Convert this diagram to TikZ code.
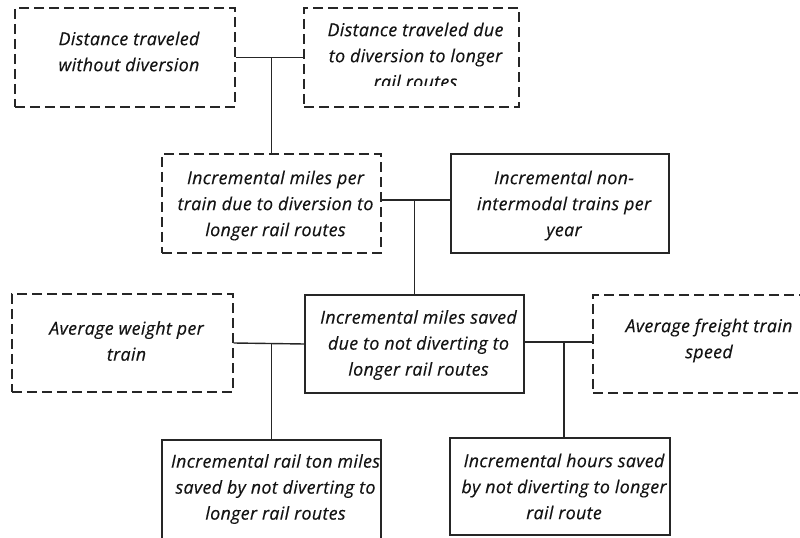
\documentclass[tikz,border=0pt]{standalone}
\usepackage{fontspec}
\setmainfont{Open Sans}[LetterSpace=2, ItalicFeatures={FakeBold=0.35}]
\begin{document}
\begin{tikzpicture}[x=1bp,y=-1bp,
  box/.style={draw=black!85, line width=1.4bp, minimum width=#1, inner sep=0pt},
  dbox/.style={box=#1, dash pattern=on 10bp off 5bp},
  txt/.style={font=\fontsize{17.8bp}{26bp}\selectfont\itshape, text=black!92,
              align=center, inner sep=0pt, xshift=4bp},
  link/.style={draw=black!85, line width=1.4bp}]
\useasboundingbox (0,0) rectangle (800,538);
\clip (0,0) rectangle (800,538);
% upper row: dashed inputs
\node[dbox=220bp, minimum height=99bp] (b1) at (125,57.5) {};
\node[dbox=215bp, minimum height=99bp] (b2) at (411.5,57.5) {};
% second row
\node[dbox=219bp, minimum height=99bp] (b3) at (271.5,203.5) {};
\node[box=218bp, minimum height=99bp] (b4) at (560,203.5) {};
% third row
\node[dbox=221bp, minimum height=98bp] (b5) at (122.5,343) {};
\node[box=219bp, minimum height=98bp] (b6) at (414.5,344) {};
\node[dbox=224bp, minimum height=98bp] (b7) at (705,344) {};
% bottom row: results
\node[box=219bp, minimum height=100bp] (b8) at (271.5,490) {};
\node[box=220bp, minimum height=97bp] (b9) at (560,486.5) {};

% labels
\node[txt, yshift=6bp] (t1) at (b1) {Distance traveled\\without diversion};
\begin{scope}
  \clip (304,8) rectangle (519,86);
  \node[txt, yshift=2bp] (t2) at (b2) {Distance traveled due\\to diversion to longer\\rail routes};
\end{scope}
\node[txt, yshift=-2bp] (t3) at (b3) {Incremental miles per\\train due to diversion to\\longer rail routes};
\node[txt, yshift=-2bp] (t4) at (b4) {Incremental non-\\intermodal trains per\\year};
\node[txt, yshift=2bp] (t5) at (b5) {Average weight per\\train};
\node[txt] (t6) at ([yshift=-1bp]b6) {Incremental miles saved\\due to not diverting to\\longer rail routes};
\node[txt, yshift=3.5bp] (t7) at (b7) {Average freight train\\speed};
\node[txt] (t8) at ([yshift=1bp]b8) {Incremental rail ton miles\\saved by not diverting to\\longer rail routes};
\node[txt] (t9) at (b9) {Incremental hours saved\\by not diverting to longer\\rail route};

% connectors and their junction points
\coordinate (j34a) at ([yshift=3.5bp]b3.east);
\coordinate (j34b) at ([yshift=3.5bp]b4.west);
\coordinate (j67a) at ([yshift=2bp]b6.east);
\coordinate (j67b) at ([yshift=2bp]b7.west);
\coordinate (n9) at ([xshift=4bp]b9.north);
\draw[link] (b1.east) -- (b2.west);
\draw[link] (b3.north) -- (b3.north |- b1.east);
\draw[link] (j34a) -- (j34b);
\draw[link] (b6.north) -- (b6.north |- j34a);
\draw[link] (b5.east) -- (b6.west);
\draw[link] (b8.north) -- (b8.north |- b5.east);
\draw[link] (j67a) -- (j67b);
\draw[link] (n9) -- (n9 |- j67a);
\end{tikzpicture}
\end{document}
